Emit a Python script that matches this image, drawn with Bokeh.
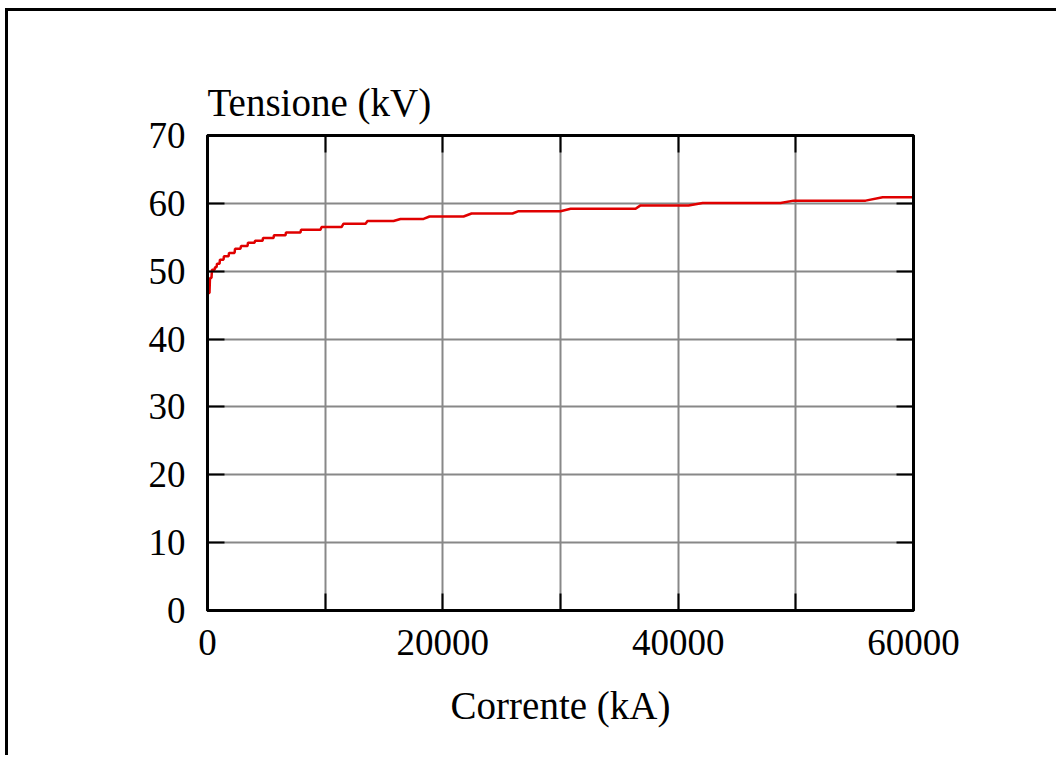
from bokeh.plotting import figure
from bokeh.models import FixedTicker, LinearAxis, Title, Range1d
from bokeh.embed import file_html
from bokeh.resources import INLINE

# ---- data ----
corrente_kA = [0, 0, 40, 170, 210, 340, 380, 600, 640, 770, 810, 1020, 1060, 1360, 1400,
               1790, 1830, 2300, 2340, 2800, 2850, 3400, 3440, 4000, 4040, 4680, 4720,
               5610, 5650, 6630, 6670, 7900, 7950, 9600, 9690, 11390, 11560, 13430, 13600,
               15810, 16400, 18360, 18870, 21760, 22440, 25920, 26440, 30000, 30860,
               36380, 36800, 40880, 42080, 48700, 49810, 55930, 57380, 60000]
tensione_kV = [0, 46.8, 46.8, 46.8, 49.0, 49.0, 50.2, 50.2, 50.6, 50.6, 51.1, 51.1, 51.7, 51.7, 52.2,
               52.2, 52.7, 52.7, 53.3, 53.3, 53.7, 53.7, 54.2, 54.2, 54.5, 54.5, 54.9,
               54.9, 55.3, 55.3, 55.7, 55.7, 56.1, 56.1, 56.5, 56.5, 57.0, 57.0, 57.4,
               57.4, 57.7, 57.7, 58.06, 58.06, 58.5, 58.5, 58.85, 58.85, 59.2,
               59.2, 59.7, 59.7, 60.05, 60.05, 60.4, 60.4, 60.9, 60.9]

x_ticks = [0, 10000, 20000, 30000, 40000, 50000, 60000]
x_tick_labels = {10000: "", 30000: "", 50000: ""}
y_ticks = [0, 10, 20, 30, 40, 50, 60, 70]

FONT = "Liberation Serif"
FS = "37px"
FS_LABEL = "39px"

OFF_X, OFF_Y = 8, 11   # page frame (top/left border) offset

p = figure(width=1059 - OFF_X, height=758 - OFF_Y, x_range=Range1d(0, 60000), y_range=Range1d(0, 70),
           output_backend="svg", toolbar_location=None,
           min_border_left=207 - OFF_X, min_border_right=146,
           min_border_top=135 - OFF_Y, min_border_bottom=148,
           x_axis_label="Corrente (kA)")
p.margin = (OFF_Y - 3, 0, 0, OFF_X - 3)
p.styles = {"border-top": "3px solid black", "border-left": "3px solid black"}
p.background_fill_color = "white"
p.border_fill_color = "white"
p.outline_line_color = "black"
p.outline_line_width = 3

def style_axis(ax, labels=True):
    ax.major_tick_in = 17
    ax.major_tick_out = 0
    ax.minor_tick_line_color = None
    ax.major_tick_line_width = 2
    ax.major_tick_line_color = "black"
    ax.axis_line_color = "black"
    ax.axis_line_width = 3
    ax.major_label_text_font = FONT
    ax.major_label_text_font_size = FS if labels else "0px"
    ax.major_label_text_color = "black" if labels else None
    ax.axis_label_text_font = FONT
    ax.axis_label_text_font_size = FS_LABEL
    ax.axis_label_text_font_style = "normal"
    ax.axis_label_text_color = "black"

xa = p.xaxis[0]
xa.ticker = FixedTicker(ticks=x_ticks)
xa.major_label_overrides = x_tick_labels
style_axis(xa)
xa.major_label_standoff = 19
xa.axis_label_standoff = 26

ya = p.yaxis[0]
ya.ticker = FixedTicker(ticks=y_ticks)
style_axis(ya)
ya.major_label_standoff = 22

top_ax = LinearAxis(ticker=FixedTicker(ticks=x_ticks))
style_axis(top_ax, labels=False)
p.add_layout(top_ax, "above")
right_ax = LinearAxis(ticker=FixedTicker(ticks=y_ticks))
style_axis(right_ax, labels=False)
p.add_layout(right_ax, "right")

p.add_layout(Title(text="Tensione (kV)", align="left", text_font=FONT, text_font_size=FS_LABEL,
                   text_font_style="normal", text_color="black", standoff=24), "above")

p.xgrid.ticker = FixedTicker(ticks=x_ticks)
p.ygrid.ticker = FixedTicker(ticks=y_ticks)
for g in (p.xgrid[0], p.ygrid[0]):
    g.grid_line_color = "#888888"
    g.grid_line_width = 2

p.line(corrente_kA, tensione_kV, line_color="#e00000", line_width=2.5)

open("out.html", "w").write(file_html(p, INLINE))
